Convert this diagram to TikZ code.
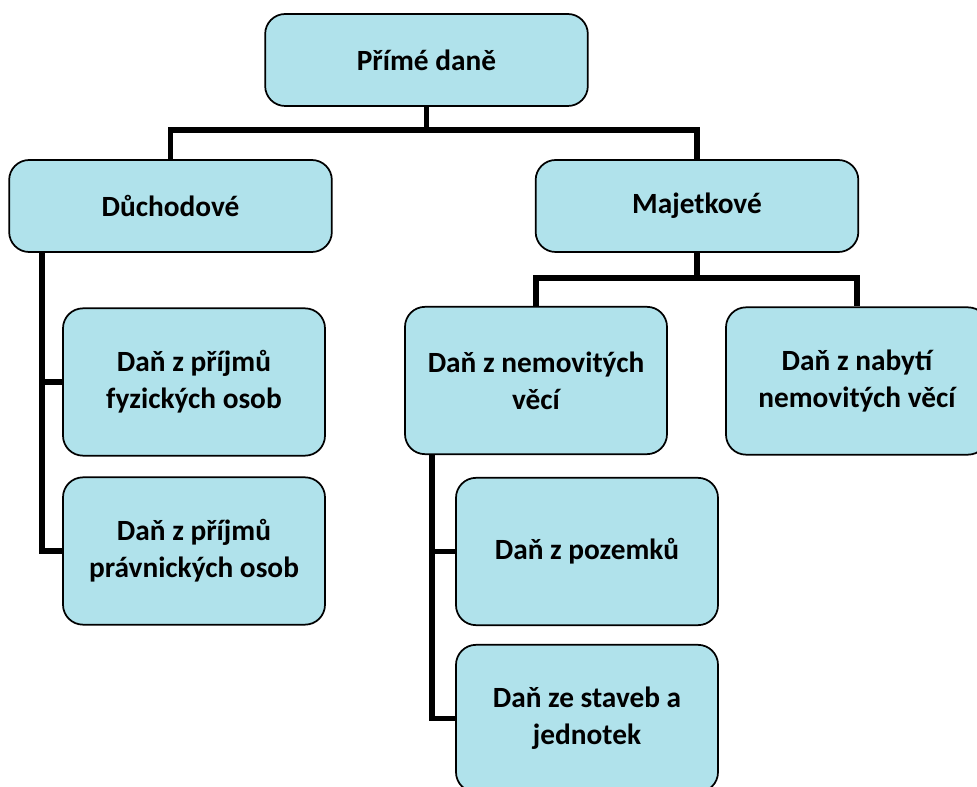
\documentclass[tikz,border=0pt]{standalone}
\usepackage{fontspec}
\setmainfont{Carlito}
\definecolor{boxfill}{HTML}{B0E2EB}
\begin{document}
\begin{tikzpicture}[x=0.75pt, y=-0.75pt,
    box/.style = {draw, line width=1.3pt, fill=boxfill, rounded corners=15pt,
                  inner sep=0pt, align=center, font=\fontsize{22}{28}\selectfont\bfseries},
    wide/.style = {box, minimum width=242pt, minimum height=69pt},
    tall/.style = {box, minimum width=196.5pt, minimum height=110.5pt},
    conn/.style = {line width=3.8pt}]
    \useasboundingbox (0,0) rectangle (977,787);
    % top levels
    \node[wide] (prime) at (426.5,60) {Přímé daně};
    \node[wide] (duch)  at (170.5,206) {Důchodové};
    \node[wide] (majet) at (697,206) {Majetkové};
    % leaves
    \node[tall] (fyz)    at (194,382)   {Daň z příjmů\\fyzických osob};
    \node[tall] (prav)   at (194,551)   {Daň z příjmů\\právnických osob};
    \node[tall] (nemov)  at (536,380.5) {Daň z nemovitých\\věcí};
    \node[tall] (nabyti) at (857,381)   {Daň z nabytí\\nemovitých věcí};
    \node[tall] (pozem)  at (587,551.5) {Daň z pozemků};
    \node[tall] (staveb) at (587,718.5) {Daň ze staveb a\\jednotek};
    % connectors
    \coordinate (split1) at (426.5,130);
    \coordinate (split2) at (697,278);
    \coordinate (rail1) at (42,252);
    \coordinate (rail2) at (432,454);
    \draw[conn] (prime.south) -- (split1);
    \draw[conn] (duch.north) |- (split1) -| (majet.north);
    \draw[conn] (majet.south) -- (split2);
    \draw[conn] (nemov.north) |- (split2) -| (nabyti.north);
    \draw[conn] (rail1) |- (prav.west);
    \draw[conn] (rail1 |- fyz.west) -- (fyz.west);
    \draw[conn] (rail2) |- (staveb.west);
    \draw[conn] (rail2 |- pozem.west) -- (pozem.west);
\end{tikzpicture}
\end{document}
